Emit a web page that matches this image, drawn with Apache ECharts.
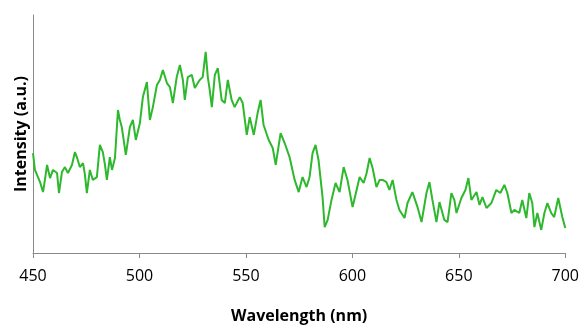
<!DOCTYPE html>
<html>
<head>
<meta charset="utf-8">
<script src="https://cdn.jsdelivr.net/npm/echarts@6/dist/echarts.min.js"></script>
<style>html,body{margin:0;padding:0;background:#fff}#c{width:582px;height:329px}</style>
</head>
<body>
<div id="c"></div>
<script>
const wavelengths = [450.0,450.9,451.9,453.3,454.7,455.6,456.6,458.0,459.4,461.3,462.2,463.6,465.0,466.4,468.3,469.7,470.6,472.0,473.5,474.4,475.3,476.7,478.1,480.0,481.4,482.8,483.8,484.7,486.1,487.1,488.5,489.9,490.8,491.7,493.6,495.5,496.9,498.3,500.2,501.6,503.5,504.9,506.3,508.2,509.6,511.0,512.9,514.3,515.7,517.5,519.0,520.4,521.3,522.7,524.6,526.0,527.4,528.3,529.7,531.1,532.1,533.0,534.0,535.4,536.8,538.6,540.1,541.5,543.3,544.7,547.1,548.5,550.4,551.8,553.7,555.5,556.9,558.3,560.7,562.6,564.0,566.3,568.2,570.5,572.9,574.8,576.6,578.5,579.9,581.3,582.7,584.1,586.0,587.0,588.4,590.2,592.1,594.0,595.9,597.7,600.1,602.0,603.4,605.3,606.7,608.1,609.5,611.3,612.8,614.2,616.0,617.4,618.9,620.7,622.1,624.5,625.9,628.2,630.6,632.5,634.8,636.2,637.6,639.5,640.9,643.2,644.7,646.5,647.9,648.9,651.2,653.1,654.5,655.9,658.3,659.7,661.1,663.0,665.3,667.6,669.5,671.4,672.8,674.7,676.1,678.4,679.8,681.7,683.1,684.5,685.5,686.9,688.7,690.2,691.6,693.4,694.8,696.7,698.6,700.0];
const intensity = [42.0,34.9,32.8,29.8,25.6,30.7,37.0,31.5,34.9,33.6,25.2,34.0,36.1,33.6,37.0,42.4,40.3,36.1,37.8,32.8,25.2,34.9,30.7,31.9,45.4,42.4,37.0,30.7,40.3,34.9,39.9,60.1,55.9,52.9,41.2,52.9,55.9,47.5,54.6,65.5,71.8,55.9,61.3,70.6,72.7,76.9,71.4,69.7,63.0,73.9,79.0,72.7,64.3,73.9,74.8,69.3,71.4,72.7,73.9,84.5,73.9,68.5,61.3,74.8,77.7,64.3,63.0,72.7,64.3,61.3,65.5,63.0,49.6,57.1,49.6,58.8,64.3,53.8,47.5,44.1,37.0,50.4,46.2,40.3,30.7,25.6,31.9,27.7,31.9,42.0,45.4,39.1,23.5,10.9,13.9,22.3,29.4,25.6,36.1,30.7,19.3,26.5,31.9,29.4,33.6,39.9,35.7,27.7,30.7,30.7,29.8,26.5,30.7,22.3,18.1,14.7,21.0,25.6,19.3,13.0,25.2,29.8,22.3,13.0,21.4,13.9,13.0,25.2,22.3,16.8,23.1,26.5,31.5,22.3,25.6,20.2,23.5,18.9,21.0,26.5,25.2,28.6,25.2,16.8,18.1,16.8,22.3,14.7,25.2,21.0,10.9,16.8,9.7,16.8,21.0,16.8,15.1,23.1,15.1,10.5];
const xTicks = [450, 500, 550, 600, 650, 700];
const xTitle = 'Wavelength (nm)';
const yTitle = 'Intensity (a.u.)';

const chart = echarts.init(document.getElementById('c'), null, {renderer: 'canvas'});
chart.setOption({
  animation: false,
  backgroundColor: '#fff',
  grid: {left: 33, right: 16, top: 15, bottom: 76, containLabel: false},
  xAxis: {
    type: 'value', min: xTicks[0], max: xTicks[xTicks.length-1], interval: 50,
    name: xTitle, nameLocation: 'middle', nameGap: 55,
    nameTextStyle: {fontFamily: 'Open Sans', fontWeight: 'bold', fontSize: 16, color: '#000'},
    axisLine: {show: true, lineStyle: {color: '#8a8a8a', width: 1}},
    axisTick: {show: true, length: 5, lineStyle: {color: '#8a8a8a'}},
    axisLabel: {margin: 15, fontFamily: 'Open Sans', fontSize: 16, color: '#000'},
    splitLine: {show: false}
  },
  yAxis: {
    type: 'value', min: 0, max: 100,
    name: yTitle, nameLocation: 'middle', nameGap: 4, nameRotate: 90,
    nameTextStyle: {fontFamily: 'Open Sans', fontWeight: 'bold', fontSize: 16, color: '#000'},
    axisLine: {show: true, lineStyle: {color: '#8a8a8a', width: 1}},
    axisTick: {show: false},
    axisLabel: {show: false},
    splitLine: {show: false}
  },
  series: [{
    type: 'line',
    data: wavelengths.map((w, i) => [w, intensity[i]]),
    showSymbol: false,
    lineStyle: {color: '#2DB82D', width: 2},
    itemStyle: {color: '#2DB82D'}
  }]
});
</script>
</body>
</html>
